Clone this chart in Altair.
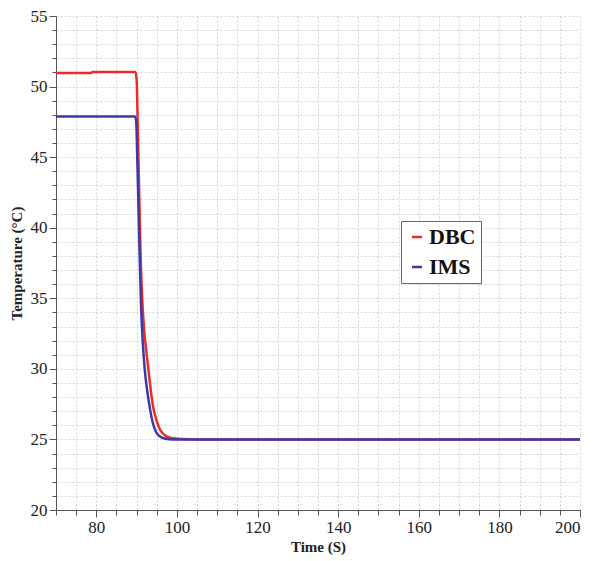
import altair as alt
import pandas as pd

dbc_t = [70, 78.8, 79.0, 89.7, 90.0, 90.3, 90.6, 90.9, 91.3, 91.8, 92.5, 93.3, 94.1, 95.0, 95.8, 97.0, 98.5, 101.0, 105.0, 200]
dbc_v = [50.97, 50.97, 51.04, 51.04, 50.5, 47.0, 43.0, 39.0, 35.5, 33.0, 31.0, 29.0, 27.3, 26.3, 25.7, 25.3, 25.1, 25.03, 25.0, 25.0]
ims_t = [70, 89.6, 89.9, 90.2, 90.5, 90.8, 91.1, 91.5, 92.0, 92.6, 93.3, 94.0, 94.7, 95.6, 96.5, 98.0, 100.0, 200]
ims_v = [47.88, 47.88, 47.5, 44.5, 41.0, 37.5, 34.5, 32.0, 30.0, 28.5, 27.2, 26.2, 25.6, 25.25, 25.1, 25.02, 25.0, 25.0]

series = ["DBC", "IMS"]
colors = ["#f02a2a", "#3b3ba6"]

df = pd.concat([
    pd.DataFrame({"t": dbc_t, "v": dbc_v, "s": "DBC", "o": range(len(dbc_t))}),
    pd.DataFrame({"t": ims_t, "v": ims_v, "s": "IMS", "o": range(len(ims_t))}),
])

xvals = list(range(70, 201, 5))
yvals = list(range(20, 56, 1))

font = "Liberation Serif"

chart = alt.Chart(df).mark_line(strokeWidth=2.5, interpolate="monotone").encode(
    x=alt.X("t:Q", scale=alt.Scale(domain=[70, 200], nice=False, zero=False),
            axis=alt.Axis(title="Time (S)", values=xvals,
                          labelExpr="datum.value % 20 === 0 ? datum.label : ''",
                          tickSize={"condition": {"test": "datum.value % 20 === 0", "value": 7}, "value": 5},
                          grid=True, gridDash=[2, 2], gridColor="#d4d4d4",
                          labelFont=font, labelFontSize=17, labelColor="#222",
                          titleFont=font, titleFontSize=15, titleFontWeight="bold", titleColor="#222",
                          domainColor="#555", tickColor="#555", labelPadding=2, titlePadding=4,
                          labelOverlap=False)),
    y=alt.Y("v:Q", scale=alt.Scale(domain=[20, 55], nice=False, zero=False),
            axis=alt.Axis(title="Temperature (°C)", values=yvals,
                          labelExpr="datum.value % 5 === 0 ? datum.label : ''",
                          tickSize={"condition": {"test": "datum.value % 5 === 0", "value": 7}, "value": 4},
                          grid=True, gridDash=[2, 2], gridColor="#d4d4d4",
                          labelFont=font, labelFontSize=17, labelColor="#222",
                          titleFont=font, titleFontSize=15, titleFontWeight="bold", titleColor="#222",
                          domainColor="#555", tickColor="#555", labelPadding=2, titlePadding=6,
                          labelOverlap=False)),
    color=alt.Color("s:N", scale=alt.Scale(domain=series, range=colors),
                    legend=alt.Legend(title=None, orient="none", legendX=345, legendY=205,
                                      symbolType="stroke", symbolSize=100, symbolStrokeWidth=2.5,
                                      labelFont=font, labelFontSize=22, labelFontWeight="bold",
                                      labelColor="#111", strokeColor="#666", padding=5,
                                      labelOffset=1, rowPadding=8, fillColor="white")),
    order="o:Q",
).properties(
    width=524, height=494,
    autosize=alt.AutoSizeParams(type="none"),
    padding={"left": 48, "top": 8, "right": 12, "bottom": 45},
).configure_view(stroke=None)

chart.save("out.html", embed_options={"renderer": "svg", "actions": False})
